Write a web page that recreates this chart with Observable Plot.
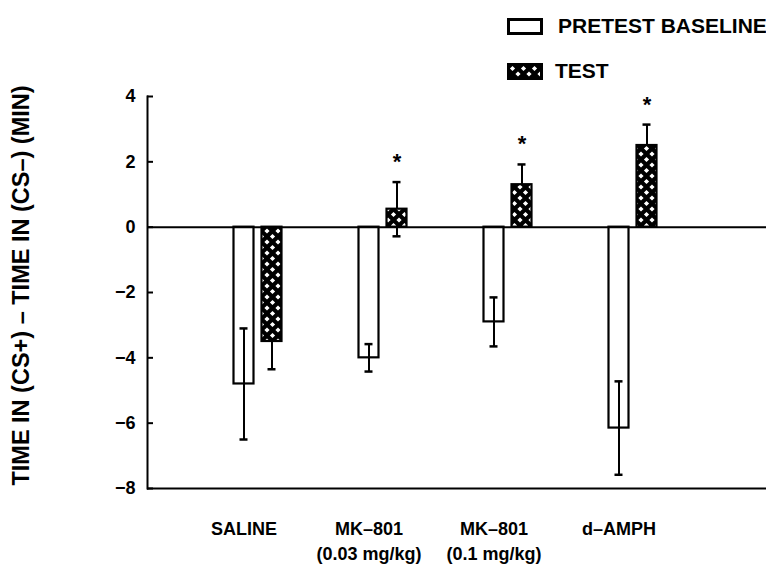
<!DOCTYPE html>
<html>
<head>
<meta charset="utf-8">
<script src="https://cdn.jsdelivr.net/npm/d3@7"></script>
<script src="https://cdn.jsdelivr.net/npm/@observablehq/plot@0.6"></script>
<style>
  html, body { margin: 0; padding: 0; background: white; }
  #wrap { position: relative; width: 766px; height: 564px; font-family: "Liberation Sans", Arial, Helvetica, sans-serif; font-weight: bold; }
  .leg { position: absolute; display: flex; align-items: center; font-size: 21px; color: black; white-space: nowrap; }
  .leg svg { display: block; }
</style>
</head>
<body>
<div id="wrap"></div>
<script>
// ---- data ----
const groups = ["SALINE", "MK–801\n(0.03 mg/kg)", "MK–801\n(0.1 mg/kg)", "d–AMPH"];
const pretestMean = [-4.8, -4.0, -2.9, -6.15];
const pretestSem  = [1.7, 0.42, 0.75, 1.43];
const testMean    = [-3.5, 0.55, 1.3, 2.5];
const testSem     = [0.85, 0.83, 0.62, 0.64];
const significant = [false, true, true, true];
const yTicks = [4, 2, 0, -2, -4, -6, -8];
const seriesNames = ["PRETEST BASELINE", "TEST"];
const yLabel = "TIME IN (CS+) – TIME IN (CS–) (MIN)";

const pre = groups.map((g, i) => ({group: g, mean: pretestMean[i], sem: pretestSem[i]}));
const tst = groups.map((g, i) => ({group: g, mean: testMean[i], sem: testSem[i], sig: significant[i]}));
const stars = tst.filter(d => d.sig);

const BAND = 125, BARW = 20, CAPW = 8, OFF = 14;
const barInset = (BAND - BARW) / 2;
const capInset = (BAND - CAPW) / 2;

const plot = Plot.plot({
  width: 766,
  height: 564,
  marginLeft: 147,
  marginRight: 0,
  marginTop: 96,
  marginBottom: 76,
  style: {fontFamily: "'Liberation Sans', Arial, Helvetica, sans-serif", fontWeight: "bold", fontSize: "18px", color: "black", background: "white"},
  x: {domain: groups, range: [194.5, 694.5], padding: 0, axis: null},
  y: {domain: [-8, 4], axis: null},
  marks: [
    // pretest bars (white)
    Plot.barY(pre, {x: "group", y: "mean", fill: "white", stroke: "black", strokeWidth: 2.2, insetLeft: barInset, insetRight: barInset, dx: -OFF}),
    // pretest error bars
    Plot.ruleX(pre, {x: "group", y1: d => d.mean - d.sem, y2: d => d.mean + d.sem, stroke: "black", strokeWidth: 2, dx: -OFF}),
    Plot.tickY(pre, {x: "group", y: d => d.mean - d.sem, stroke: "black", strokeWidth: 2.5, insetLeft: capInset, insetRight: capInset, dx: -OFF}),
    Plot.tickY(pre, {x: "group", y: d => d.mean + d.sem, stroke: "black", strokeWidth: 2.5, insetLeft: capInset, insetRight: capInset, dx: -OFF}),
    // test error bars
    Plot.ruleX(tst, {x: "group", y1: d => d.mean - d.sem, y2: d => d.mean + d.sem, stroke: "black", strokeWidth: 2, dx: OFF}),
    Plot.tickY(tst, {x: "group", y: d => d.mean - d.sem, stroke: "black", strokeWidth: 2.5, insetLeft: capInset, insetRight: capInset, dx: OFF}),
    Plot.tickY(tst, {x: "group", y: d => d.mean + d.sem, stroke: "black", strokeWidth: 2.5, insetLeft: capInset, insetRight: capInset, dx: OFF}),
    // test bars (cross-hatched)
    Plot.barY(tst, {x: "group", y: "mean", fill: "url(#xhatch)", stroke: "black", strokeWidth: 2.2, insetLeft: barInset, insetRight: barInset, dx: OFF}),
    // zero line and bottom line
    Plot.ruleY([0, -8], {stroke: "black", strokeWidth: 2}),
    // y axis line
    Plot.frame({anchor: "left", stroke: "black", strokeWidth: 2}),
    // y ticks (inward)
    Plot.tickY(yTicks, {y: d => d, stroke: "black", strokeWidth: 2, insetRight: 613}),
    // y tick labels
    Plot.axisY(yTicks, {tickSize: 0, tickPadding: 12, fontSize: 18, label: null}),
    // y axis title
    Plot.text([yLabel], {frameAnchor: "left", textAnchor: "middle", lineAnchor: "middle", rotate: -90, dx: -126, dy: -7, fontSize: 23.5, fontWeight: "bold", fill: "black"}),
    // category labels
    Plot.text(groups, {x: d => d, text: d => d, frameAnchor: "bottom", lineAnchor: "top", dy: 29, dx: -OFF, fontSize: 18, lineHeight: 1.38, fill: "black"}),
    // significance asterisks
    Plot.text(stars, {x: "group", y: d => d.mean + d.sem, text: () => "*", dx: OFF, dy: -20, fontSize: 22, fill: "black"})
  ]
});

d3.select(plot).insert("defs", ":first-child").html(
  `<pattern id="xhatch" patternUnits="userSpaceOnUse" width="11" height="11">
     <rect width="11" height="11" fill="black"/>
     <path fill="white" d="M5.5,2.9L8.1,5.5L5.5,8.1L2.9,5.5Z M0,-2.6L2.6,0L0,2.6L-2.6,0Z M11,-2.6L13.6,0L11,2.6L8.4,0Z M0,8.4L2.6,11L0,13.6L-2.6,11Z M11,8.4L13.6,11L11,13.6L8.4,11Z"/>
   </pattern>`
);

const wrap = document.getElementById("wrap");
wrap.appendChild(plot);

// legend
function legendItem(label, fill, top, textLeftGap) {
  const div = document.createElement("div");
  div.className = "leg";
  div.style.left = "507px";
  div.style.top = top + "px";
  div.innerHTML = `<svg width="36" height="17"><defs><pattern id="lx${top}" patternUnits="userSpaceOnUse" width="11" height="11"><rect width="11" height="11" fill="black"/><path fill="white" d="M5.5,2.9L8.1,5.5L5.5,8.1L2.9,5.5Z M0,-2.6L2.6,0L0,2.6L-2.6,0Z M11,-2.6L13.6,0L11,2.6L8.4,0Z M0,8.4L2.6,11L0,13.6L-2.6,11Z M11,8.4L13.6,11L11,13.6L8.4,11Z"/></pattern></defs><rect x="1.5" y="1.5" width="33" height="14" fill="${fill === 'pattern' ? `url(#lx${top})` : 'white'}" stroke="black" stroke-width="3"/></svg><span style="margin-left:${textLeftGap}px">${label}</span>`;
  wrap.appendChild(div);
}
legendItem(seriesNames[0], "white", 14, 15);
legendItem(seriesNames[1], "pattern", 59, 12);
</script>
</body>
</html>
